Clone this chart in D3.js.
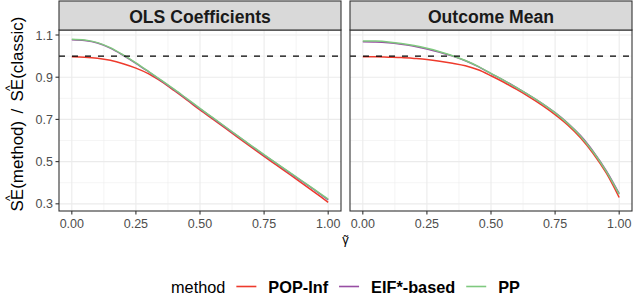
<!DOCTYPE html>
<html>
<head>
<meta charset="utf-8">
<script src="https://cdn.jsdelivr.net/npm/d3@7"></script>
<style>
  body { margin: 0; background: #fff; }
  svg { display: block; font-family: "Liberation Sans", Arial, sans-serif; }
</style>
</head>
<body>
<div id="chart"></div>
<script>
// gamma grid shared by every curve
const gammas = d3.range(0, 1.0001, 0.05).map(d => +d.toFixed(2));

const methods = ['POP-Inf', 'EIF*-based', 'PP'];
const colors = ['#EE3A2C', '#984EA3', '#7FC97F'];
const panels = ['OLS Coefficients', 'Outcome Mean'];

// OLS Coefficients panel
const olsPopInf = [0.997, 0.995, 0.990, 0.980, 0.964, 0.943, 0.916, 0.879, 0.836, 0.791, 0.745,
                   0.701, 0.657, 0.613, 0.569, 0.525, 0.482, 0.439, 0.396, 0.352, 0.307];
const olsEif    = [1.078, 1.074, 1.062, 1.038, 1.004, 0.966, 0.925, 0.883, 0.840, 0.795, 0.750,
                   0.706, 0.662, 0.618, 0.574, 0.531, 0.489, 0.447, 0.405, 0.363, 0.319];
const olsPP     = [1.080, 1.076, 1.064, 1.040, 1.006, 0.968, 0.927, 0.885, 0.842, 0.797, 0.752,
                   0.708, 0.664, 0.620, 0.576, 0.533, 0.491, 0.449, 0.407, 0.365, 0.322];

// Outcome Mean panel
const meanPopInf = [0.997, 0.997, 0.995, 0.993, 0.989, 0.984, 0.976, 0.966, 0.954, 0.935, 0.907,
                    0.876, 0.842, 0.806, 0.767, 0.723, 0.673, 0.612, 0.536, 0.445, 0.330];
const meanEif    = [1.068, 1.067, 1.063, 1.056, 1.047, 1.034, 1.018, 1.000, 0.978, 0.950, 0.917,
                    0.885, 0.850, 0.814, 0.775, 0.732, 0.682, 0.622, 0.546, 0.456, 0.348];
const meanPP     = [1.072, 1.071, 1.067, 1.060, 1.050, 1.037, 1.021, 1.002, 0.979, 0.951, 0.918,
                    0.885, 0.850, 0.814, 0.775, 0.731, 0.680, 0.619, 0.543, 0.453, 0.345];

const seriesByPanel = [[olsPopInf, olsEif, olsPP], [meanPopInf, meanEif, meanPP]];

const xTicks = [0, 0.25, 0.5, 0.75, 1];
const xMinor = [0.125, 0.375, 0.625, 0.875];
const yTicks = [0.3, 0.5, 0.7, 0.9, 1.1];
const yMinor = [0.4, 0.6, 0.8, 1.0];
const refLine = 1;

const W = 634, H = 294;
const svg = d3.select('#chart').append('svg').attr('width', W).attr('height', H);

const stripTop = 1, panelTop = 30, panelBottom = 211;
const panelX = [[59, 341], [350, 632]];

const y = d3.scaleLinear().domain([0.266, 1.1237]).range([panelBottom, panelTop]);

panels.forEach(function(title, p) {
    const [x0, x1] = panelX[p];
    const x = d3.scaleLinear().domain([-0.05, 1.05]).range([x0, x1]);
    const g = svg.append('g');

    // grid
    g.selectAll('.gx-minor').data(xMinor).enter().append('line')
        .attr('x1', d => x(d)).attr('x2', d => x(d))
        .attr('y1', panelTop).attr('y2', panelBottom)
        .attr('stroke', '#EBEBEB').attr('stroke-width', 0.55);
    g.selectAll('.gy-minor').data(yMinor).enter().append('line')
        .attr('x1', x0).attr('x2', x1)
        .attr('y1', d => y(d)).attr('y2', d => y(d))
        .attr('stroke', '#EBEBEB').attr('stroke-width', 0.55);
    g.selectAll('.gx').data(xTicks).enter().append('line')
        .attr('x1', d => x(d)).attr('x2', d => x(d))
        .attr('y1', panelTop).attr('y2', panelBottom)
        .attr('stroke', '#EBEBEB').attr('stroke-width', 1.1);
    g.selectAll('.gy').data(yTicks).enter().append('line')
        .attr('x1', x0).attr('x2', x1)
        .attr('y1', d => y(d)).attr('y2', d => y(d))
        .attr('stroke', '#EBEBEB').attr('stroke-width', 1.1);

    // curves
    const line = d3.line()
        .x((d, i) => x(gammas[i]))
        .y(d => y(d))
        .curve(d3.curveCatmullRom.alpha(0.5));
    seriesByPanel[p].forEach(function(vals, m) {
        g.append('path')
            .attr('d', line(vals))
            .attr('fill', 'none')
            .attr('stroke', colors[m])
            .attr('stroke-width', 1.5);
    });

    // dashed reference
    g.append('line')
        .attr('x1', x0).attr('x2', x1)
        .attr('y1', y(refLine)).attr('y2', y(refLine))
        .attr('stroke', '#000').attr('stroke-width', 1.4)
        .attr('stroke-dasharray', '6,7');

    // panel border
    g.append('rect')
        .attr('x', x0).attr('y', panelTop)
        .attr('width', x1 - x0).attr('height', panelBottom - panelTop)
        .attr('fill', 'none').attr('stroke', '#333').attr('stroke-width', 1.1);

    // strip
    g.append('rect')
        .attr('x', x0).attr('y', stripTop)
        .attr('width', x1 - x0).attr('height', panelTop - stripTop)
        .attr('fill', '#D9D9D9').attr('stroke', '#333').attr('stroke-width', 1.1);
    g.append('text')
        .attr('x', (x0 + x1) / 2).attr('y', 22.6)
        .attr('text-anchor', 'middle')
        .attr('font-size', '17.6px').attr('font-weight', 'bold')
        .attr('fill', '#1A1A1A')
        .text(title);

    // x axis
    const xa = g.append('g');
    xa.selectAll('line').data(xTicks).enter().append('line')
        .attr('x1', d => x(d)).attr('x2', d => x(d))
        .attr('y1', panelBottom).attr('y2', panelBottom + 3.5)
        .attr('stroke', '#333').attr('stroke-width', 1.1);
    xa.selectAll('text').data(xTicks).enter().append('text')
        .attr('x', d => x(d)).attr('y', 228)
        .attr('text-anchor', 'middle')
        .attr('font-size', '12.5px').attr('fill', '#4D4D4D')
        .text(d => d3.format('.2f')(d));

    // y axis (left panel only)
    if (p === 0) {
        const ya = g.append('g');
        ya.selectAll('line').data(yTicks).enter().append('line')
            .attr('x1', x0 - 3.5).attr('x2', x0)
            .attr('y1', d => y(d)).attr('y2', d => y(d))
            .attr('stroke', '#333').attr('stroke-width', 1.1);
        ya.selectAll('text').data(yTicks).enter().append('text')
            .attr('x', x0 - 6).attr('y', d => y(d) + 4.5)
            .attr('text-anchor', 'end')
            .attr('font-size', '12.5px').attr('fill', '#4D4D4D')
            .text(d => d3.format('.1f')(d));
    }
});

// x axis title: gamma with a tilde on top
const xTitleX = (panelX[0][0] + panelX[1][1]) / 2;
svg.append('text').attr('x', xTitleX).attr('y', 243.5)
    .attr('text-anchor', 'middle').attr('font-size', '13px').text('γ');
svg.append('text').attr('x', xTitleX + 0.5).attr('y', 245)
    .attr('text-anchor', 'middle').attr('font-size', '13px').text('˜');

// y axis title with hats over SE
const yTitle = svg.append('g').attr('transform', 'translate(23,114) rotate(-90)');
const pieces = ['SE', '(method)', '/', 'SE', '(classic)'];
const nodes = pieces.map(t => yTitle.append('text').attr('font-size', '17px').attr('fill', '#000').text(t));
const widths = nodes.map(n => n.node().getComputedTextLength());
const totalTarget = 195;
const gap = (totalTarget - d3.sum(widths)) / 2;
let cx = -totalTarget / 2;
const starts = [];
nodes.forEach(function(n, i) {
    if (i === 2 || i === 3) cx += gap;
    starts.push(cx);
    n.attr('x', cx).attr('y', 0);
    cx += widths[i];
});
[0, 3].forEach(function(i) {
    yTitle.append('text')
        .attr('x', starts[i] + widths[i] / 2 + 2).attr('y', -9.5)
        .attr('text-anchor', 'middle').attr('font-size', '12px')
        .text('^');
});

// legend
const legend = svg.append('g');
const legY = 292.5;
let lx = 0;
const titleNode = legend.append('text').attr('x', 0).attr('y', legY)
    .attr('font-size', '16.3px').text('method');
lx += titleNode.node().getComputedTextLength() + 11;
methods.forEach(function(m, i) {
    legend.append('line')
        .attr('x1', lx).attr('x2', lx + 20)
        .attr('y1', legY - 6).attr('y2', legY - 6)
        .attr('stroke', colors[i]).attr('stroke-width', 1.6);
    lx += 32;
    const t = legend.append('text').attr('x', lx).attr('y', legY)
        .attr('font-size', '16.3px').attr('font-weight', 'bold').text(m);
    lx += t.node().getComputedTextLength() + (i < methods.length - 1 ? 11 : 0);
});
legend.attr('transform', 'translate(' + (xTitleX - lx / 2) + ',0)');
</script>
</body>
</html>
